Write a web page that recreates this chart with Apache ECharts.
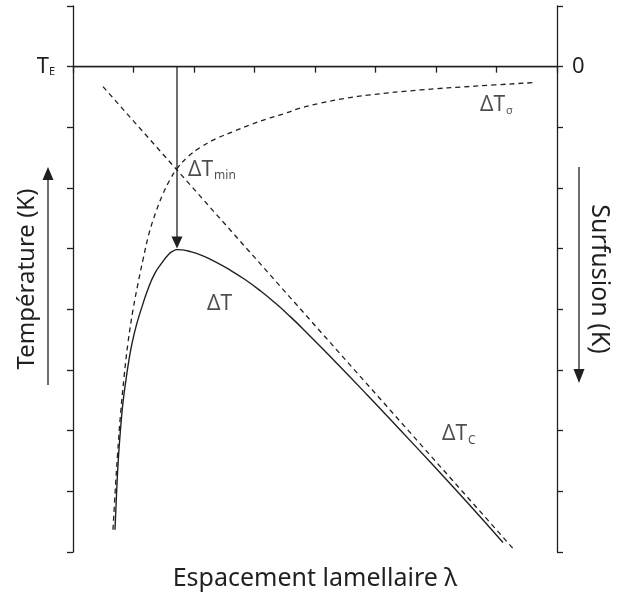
<!DOCTYPE html>
<html><head><meta charset="utf-8">
<script src="https://cdn.jsdelivr.net/npm/echarts@6/dist/echarts.min.js"></script>
<style>html,body{margin:0;padding:0;background:#fff}#c{width:629px;height:596px}</style>
</head><body><div id="c"></div>
<script>
// lamellar spacing (arbitrary units) vs undercooling (arbitrary units, 0 at T_E, increasing downward)
const xTickValues = [0, 1, 2, 3, 4, 5, 6, 7, 8];
const yTickValues = [-1, 0, 1, 2, 3, 4, 5, 6, 7, 8];
const dTsigma = [[0.661,7.632],[0.694,7.055],[0.736,6.395],[0.785,5.736],[0.843,5.126],[0.909,4.549],[0.992,4.005],[1.074,3.577],[1.157,3.181],[1.256,2.753],[1.372,2.390],[1.488,2.093],[1.603,1.863],[1.719,1.681],[1.901,1.483],[2.099,1.335],[2.364,1.187],[2.645,1.071],[2.926,0.959],[3.207,0.860],[3.504,0.770],[3.752,0.684],[4.083,0.602],[4.496,0.523],[4.909,0.465],[5.736,0.384],[6.645,0.321],[7.603,0.264]];
const dTc = [[0.496,0.33],[7.289,7.96]];
const dTtotal = [[0.694,7.632],[0.719,7.055],[0.749,6.478],[0.785,5.983],[0.826,5.538],[0.876,5.159],[0.926,4.829],[0.975,4.566],[1.050,4.253],[1.136,3.972],[1.245,3.651],[1.355,3.404],[1.466,3.239],[1.575,3.099],[1.653,3.041],[1.719,3.016],[1.802,3.020],[1.906,3.039],[2.127,3.110],[2.347,3.214],[2.595,3.351],[2.843,3.509],[3.091,3.690],[3.339,3.893],[3.587,4.116],[3.835,4.356],[4.248,4.773],[4.860,5.408],[5.405,5.985],[5.950,6.567],[6.529,7.196],[7.107,7.842]];
const eutecticLine = [[0,0],[8,0]];
const minArrow = [[1.719,0],[1.719,2.9]];
const labelTE = ['T','E'];
const labelZero = '0';
const annotations = [
  {coord:[6.727,0.635], main:'ΔT', sub:'σ', subStyle:'s'},
  {coord:[1.901,1.70], main:'ΔT', sub:'min', subStyle:'m'},
  {coord:[2.215,3.915], main:'ΔT', sub:'', subStyle:'m'},
  {coord:[6.099,6.06], main:'ΔT', sub:'C', subStyle:'m'}
];
const ink = '#231f20';
const FF = '"Noto Sans", sans-serif';
const chart = echarts.init(document.getElementById('c'));
const axisCommon = {
  type:'value', min:-1, max:8, interval:1, inverse:true,
  splitLine:{show:false},
  axisLine:{show:true, lineStyle:{color:ink, width:1.3}},
  axisTick:{show:true, length:6, lineStyle:{color:ink, width:1.3}}
};
chart.setOption({
  animation:false,
  backgroundColor:'#fff',
  grid:{left:73, right:72, top:6, bottom:44, outerBoundsMode:'none', containLabel:false},
  xAxis:{type:'value', min:0, max:8, interval:1,
    splitLine:{show:false},
    axisLine:{lineStyle:{color:ink, width:1.3}},
    axisTick:{length:6, lineStyle:{color:ink, width:1.3}},
    axisLabel:{show:false},
    name:'Espacement lamellaire λ', nameLocation:'middle', nameGap:14, nameMoveOverlap:false,
    nameTextStyle:{fontFamily:FF, fontSize:25, color:ink, verticalAlign:'top'}
  },
  yAxis:[
    Object.assign({}, axisCommon, {position:'left',
      name:'Température (K)', nameLocation:'middle', nameRotate:90, nameGap:34, nameMoveOverlap:false,
      nameTextStyle:{fontFamily:FF, fontSize:24, color:ink},
      axisLabel:{margin:18, fontFamily:FF, color:ink,
        formatter:v => v===0 ? '{a|'+labelTE[0]+'}{b|'+labelTE[1]+'}' : '',
        rich:{a:{fontSize:22, fontFamily:FF, color:ink}, b:{fontSize:11, fontFamily:FF, color:ink, padding:[10,0,0,0]}}}
    }),
    Object.assign({}, axisCommon, {position:'right',
      name:'Surfusion (K)', nameLocation:'middle', nameRotate:-90, nameGap:30, nameMoveOverlap:false,
      nameTextStyle:{fontFamily:FF, fontSize:25, color:ink},
      axisLabel:{margin:15, fontFamily:FF, fontSize:22, color:ink,
        formatter:v => v===0 ? labelZero : ''}
    })
  ],
  series:[
    {type:'line', data:eutecticLine, symbol:'none', lineStyle:{color:ink, width:1.3}, z:3},
    {type:'line', data:dTsigma, symbol:'none', smooth:0.4, lineStyle:{color:ink, width:1.3, type:[5,4]}},
    {type:'line', data:dTc, symbol:'none', lineStyle:{color:ink, width:1.3, type:[5,4]}},
    {type:'line', data:dTtotal, symbol:'none', smooth:0.5, lineStyle:{color:ink, width:1.4}},
    {type:'line', data:[minArrow[0], {value:minArrow[1], symbol:'triangle', symbolSize:[11,12], symbolRotate:180, itemStyle:{color:ink}}],
      symbol:'none', showSymbol:true, lineStyle:{color:ink, width:1.3}, itemStyle:{color:ink}, z:4},
    {type:'scatter', symbolSize:0, silent:true,
      data:annotations.map(a=>({value:a.coord, label:{show:true, position:'inside', align:'left', verticalAlign:'middle',
        formatter:'{a|'+a.main+'}'+(a.sub?('{'+a.subStyle+'|'+a.sub+'}'):'')}})),
      label:{rich:{
        a:{fontSize:21, fontFamily:FF, color:ink},
        m:{fontSize:12, fontFamily:FF, color:ink, padding:[12,0,0,1]},
        s:{fontSize:11, fontFamily:FF, color:ink, padding:[11,0,0,1]}
      }}
    }
  ],
  graphic:[
    {type:'line', shape:{x1:48, y1:385, x2:48, y2:178}, style:{stroke:ink, lineWidth:1.3}},
    {type:'polygon', shape:{points:[[48,167],[42.5,180],[53.5,180]]}, style:{fill:ink}},
    {type:'line', shape:{x1:579, y1:167, x2:579, y2:372}, style:{stroke:ink, lineWidth:1.3}},
    {type:'polygon', shape:{points:[[579,383],[573.5,369],[584.5,369]]}, style:{fill:ink}}
  ]
});
</script></body></html>
